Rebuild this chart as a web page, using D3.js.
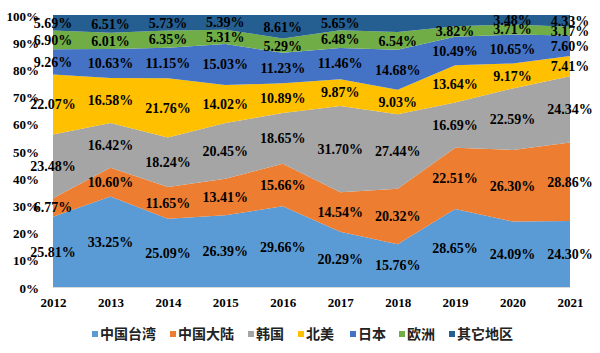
<!DOCTYPE html>
<html><head><meta charset="utf-8">
<script src="https://cdn.jsdelivr.net/npm/d3@7/dist/d3.min.js"></script>
<style>
html,body{margin:0;padding:0;background:#fff;}
svg{display:block;}
</style>
</head><body>
<svg id="chart" width="600" height="353"></svg>
<script>
const years = ["2012","2013","2014","2015","2016","2017","2018","2019","2020","2021"];
const seriesNames = ["中国台湾","中国大陆","韩国","北美","日本","欧洲","其它地区"];
const taiwan   = [25.81,33.25,25.09,26.39,29.66,20.29,15.76,28.65,24.09,24.30];
const mainland = [6.77,10.60,11.65,13.41,15.66,14.54,20.32,22.51,26.30,28.86];
const korea    = [23.48,16.42,18.24,20.45,18.65,31.70,27.44,16.69,22.59,24.34];
const northAm  = [22.07,16.58,21.76,14.02,10.89,9.87,9.03,13.64,9.17,7.41];
const japan    = [9.26,10.63,11.15,15.03,11.23,11.46,14.68,10.49,10.65,7.60];
const europe   = [6.90,6.01,6.35,5.31,5.29,6.48,6.54,3.82,3.71,3.17];
const others   = [5.69,6.51,5.73,5.39,8.61,5.65,6.23,4.18,3.48,4.33];
// labels not shown in the reference (其它地区 2018, 2019)
const hiddenLabels = [[6,6],[6,7]];
const yTicks = [0,0.1,0.2,0.3,0.4,0.5,0.6,0.7,0.8,0.9,1.0];
const colors = ["#5B9BD5","#ED7D31","#A5A5A5","#FFC000","#4472C4","#70AD47","#255E91"];

(function(){
const seriesValues = [taiwan,mainland,korea,northAm,japan,europe,others];
const rows = years.map((yr,i)=>{
  const r = {year:yr};
  seriesNames.forEach((n,k)=>{ r[n] = seriesValues[k][i]; });
  return r;
});

const svg = d3.select("#chart");
const mL = 53, mR = 570, mT = 15, mB = 287;

const x = d3.scalePoint().domain(years).range([mL,mR]);
const y = d3.scaleLinear().domain([0,1]).range([mB,mT]);

const stack = d3.stack().keys(seriesNames).offset(d3.stackOffsetExpand);
const layers = stack(rows);

const area = d3.area()
  .x(d=>x(d.data.year))
  .y0(d=>y(d[0]))
  .y1(d=>y(d[1]));

svg.append("g").selectAll("path")
  .data(layers).join("path")
  .attr("d",area)
  .attr("fill",(d,i)=>colors[i]);

// x axis baseline
svg.append("line").attr("x1",mL).attr("x2",mR).attr("y1",mB+0.5).attr("y2",mB+0.5)
  .attr("stroke","#d9d9d9").attr("stroke-width",1);

// y axis labels
const yAxis = d3.axisLeft(y).tickValues(yTicks).tickFormat(d3.format(".0%")).tickSize(0).tickPadding(0);
const yg = svg.append("g").attr("transform","translate(39,1)").call(yAxis);
yg.select(".domain").remove();
yg.selectAll("text").attr("font-family","'Liberation Serif','Times New Roman',serif")
  .attr("font-weight","bold").attr("font-size","13px").attr("fill","#000");

// x axis labels
const xAxis = d3.axisBottom(x).tickSize(0).tickPadding(0);
const xg = svg.append("g").attr("transform","translate(0,298)").call(xAxis);
xg.select(".domain").remove();
xg.selectAll("text").attr("font-family","'Liberation Serif','Times New Roman',serif")
  .attr("font-weight","bold").attr("font-size","13px").attr("fill","#000");

// data labels
const isHidden = (k,i)=>hiddenLabels.some(h=>h[0]===k&&h[1]===i);
const lg = svg.append("g");
layers.forEach((layer,k)=>{
  layer.forEach((d,i)=>{
    if(isHidden(k,i)) return;
    lg.append("text")
      .attr("x",x(d.data.year))
      .attr("y",y((d[0]+d[1])/2))
      .attr("dy","0.35em")
      .attr("text-anchor","middle")
      .attr("font-family","'Liberation Serif','Times New Roman',serif")
      .attr("font-weight","bold")
      .attr("font-size","14px")
      .attr("fill","#000")
      .text(seriesValues[k][i].toFixed(2)+"%");
  });
});

// legend
const legendX = [92,170,248,298,350,399,449];
const leg = svg.append("g");
seriesNames.forEach((n,k)=>{
  const g = leg.append("g").attr("transform",`translate(${legendX[k]},334)`);
  g.append("rect").attr("x",0).attr("y",-3).attr("width",6).attr("height",6).attr("fill",colors[k]);
  g.append("text").attr("x",8).attr("y",0).attr("dy","0.36em")
    .attr("font-family","'Noto Sans CJK SC','Noto Sans',sans-serif")
    .attr("font-weight","bold").attr("font-size","14px").attr("fill","#222")
    .text(n);
});
})();
</script>
</body></html>
